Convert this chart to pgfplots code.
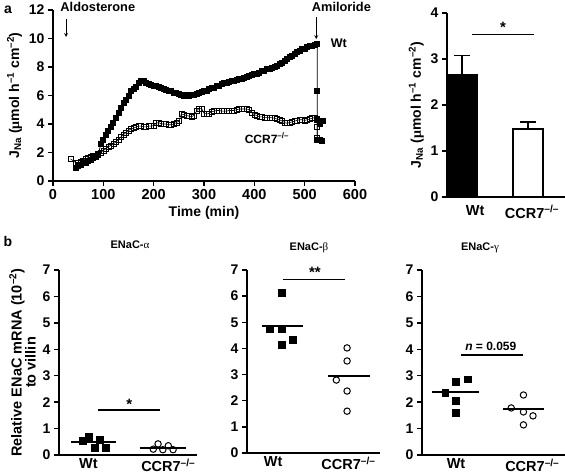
\documentclass[border=0pt]{standalone}
\usepackage{pgfplots}
\pgfplotsset{compat=1.18}
\usepackage{fontspec}
\setmainfont{Liberation Sans}
\newfontfamily\grk{Liberation Serif}
\tikzset{sig/.style={line width=1.2pt}}
\begin{document}
\begin{tikzpicture}
\useasboundingbox (0pt,0pt) rectangle (565pt,476pt);
\pgfplotsset{
 myax/.style={scale only axis, axis lines*=left,
   axis line style={line width=1.6pt,-},
   tick style={line width=1.4pt, black}, tick align=outside, major tick length=5pt,
   clip=false,
   tick label style={font=\fontsize{14}{15}\selectfont\bfseries},
   xticklabel style={font=\fontsize{14.5}{15}\selectfont\bfseries},
   /pgf/number format/assume math mode=true,
   label style={font=\fontsize{14}{15}\selectfont\bfseries},
   xtick pos=left, ytick pos=left},
 botax/.style={myax, xticklabel style={inner sep=1pt, yshift=2.5pt}},
}
% panel letters
\node[font=\fontsize{14}{15}\selectfont\bfseries] at (8pt,466pt) {a};
\node[font=\fontsize{14}{15}\selectfont\bfseries] at (8pt,234pt) {b};

% ---------- time course ----------
\begin{axis}[myax, at={(53pt,295pt)}, anchor=south west, width=302pt, height=171pt,
  xmin=0, xmax=600, ymin=0, ymax=12,
  xtick={0,100,...,600}, ytick={0,2,...,12},
  xlabel={Time (min)},
  ylabel={J\textsubscript{Na} ({\grk μ}mol h\textsuperscript{–1} cm\textsuperscript{–2})}]
\addplot[black, line width=0.8pt, mark=square*, mark size=2.5pt, mark options={solid}] coordinates {
(45,0.95)(50,1.05)(55,1.15)(60,1.25)(65,1.3)(70,1.4)(75,1.5)(80,1.6)(85,1.7)(90,1.85)
(95,2.6)(100,2.9)(105,3.2)(110,3.55)(115,3.8)(120,4.1)(125,4.45)(130,4.8)(135,5.1)(140,5.45)
(145,5.7)(150,6.0)(155,6.35)(160,6.45)(165,6.6)(170,6.85)(175,7.0)(180,7.05)(185,6.85)(190,6.8)
(195,6.75)(200,6.7)(205,6.65)(210,6.6)(215,6.5)(220,6.45)(225,6.4)(230,6.35)(235,6.3)(240,6.2)
(245,6.15)(250,6.1)(255,6.05)(260,6.0)(265,6.05)(270,6.0)(275,6.05)(280,6.05)(285,6.1)(290,6.15)
(295,6.25)(300,6.3)(305,6.35)(310,6.45)(315,6.5)(320,6.55)(325,6.65)(330,6.7)(335,6.8)(340,6.85)
(345,6.9)(350,6.95)(355,7.0)(360,7.05)(365,7.1)(370,7.15)(375,7.15)(380,7.2)(385,7.3)(390,7.35)
(395,7.45)(400,7.5)(405,7.55)(410,7.6)(415,7.7)(420,7.75)(425,7.85)(430,7.9)(435,7.95)(440,8.0)
(445,8.1)(450,8.2)(455,8.3)(460,8.4)(465,8.55)(470,8.7)(475,8.8)(480,8.9)(485,9.05)(490,9.15)
(495,9.25)(500,9.3)(505,9.4)(510,9.45)(515,9.5)(520,9.55)(525,9.6)(525,6.3)(525,4.3)(525,2.9)};
\addplot[only marks, mark=square*, mark size=2.5pt] coordinates {(530,4.1)(535,4.2)(533,2.85)};
\addplot[black, line width=0.6pt, mark=square, mark size=2.5pt, mark options={solid, fill=white}] coordinates {
(35,1.55)(45,1.3)(50,1.3)(55,1.35)(60,1.45)(65,1.55)(70,1.65)(75,1.7)(80,1.75)(85,1.8)
(90,1.9)(95,2.0)(100,2.15)(105,2.25)(110,2.4)(115,2.5)(120,2.6)(125,2.75)(130,2.9)(135,3.1)
(140,3.25)(145,3.4)(150,3.55)(155,3.65)(160,3.7)(165,3.8)(170,3.85)(175,3.85)(180,3.8)(185,3.8)
(190,3.85)(195,3.85)(200,3.9)(205,4.05)(210,4.1)(215,4.0)(220,4.0)(225,4.0)(230,3.95)(235,3.95)
(240,4.0)(245,4.1)(250,4.2)(255,4.7)(260,4.65)(265,4.6)(270,4.55)(275,4.5)(280,4.6)(285,4.9)
(290,5.1)(295,5.1)(300,4.75)(305,4.7)(310,4.75)(315,4.85)(320,4.9)(325,4.95)(330,4.95)(335,4.9)
(340,4.9)(345,4.9)(350,4.95)(355,4.95)(360,4.95)(365,5.0)(370,5.05)(375,5.05)(380,5.05)(385,5.05)
(390,5.0)(395,4.8)(400,4.65)(405,4.6)(410,4.5)(415,4.5)(420,4.45)(425,4.45)(430,4.45)(435,4.45)
(440,4.4)(445,4.35)(450,4.3)(455,4.2)(460,4.1)(465,4.05)(470,4.1)(475,4.15)(480,4.2)(485,4.25)
(490,4.3)(495,4.3)(500,4.25)(505,4.3)(510,4.35)(515,4.4)(520,4.45)(525,4.35)(525,3.8)(525,3.0)};
\addplot[only marks, mark=square, mark size=2.5pt, mark options={fill=white}] coordinates {(530,4.0)(529,2.9)};
\draw[-stealth, line width=0.8pt] (axis cs:26,11.4) -- (axis cs:26,10.1);
\node[font=\fontsize{12.8}{14}\selectfont\bfseries] at (axis cs:89,12.2) {Aldosterone};
\draw[-stealth, line width=0.8pt] (axis cs:523,11.5) -- (axis cs:523,9.95);
\node[font=\fontsize{12.8}{14}\selectfont\bfseries] at (axis cs:573,12.2) {Amiloride};
\node[font=\fontsize{12.5}{14}\selectfont\bfseries] at (axis cs:568,9.7) {Wt};
\node[font=\fontsize{12}{14}\selectfont\bfseries] at (axis cs:425,3.0) {CCR7\textsuperscript{–/–}};
\end{axis}

% ---------- bar chart ----------
\begin{axis}[myax, at={(447pt,279pt)}, anchor=south west, width=118pt, height=184pt,
  xmin=-0.227, xmax=1.56, ymin=0, ymax=4, ytick={0,1,...,4},
  xtick={0.2,1.06}, xticklabels={Wt, CCR7\textsuperscript{–/–}},
  major x tick style={draw=none},
  ylabel={J\textsubscript{Na} ({\grk μ}mol h\textsuperscript{–1} cm\textsuperscript{–2})}]
\addplot[ybar, bar width=30pt, bar shift=0pt, fill=black, draw=black, line width=1.2pt,
  error bars/.cd, y dir=plus, y explicit,
  error bar style={line width=1.5pt, black},
  error mark options={rotate=90, mark size=8pt, line width=1.5pt, black}]
  coordinates {(0,2.67) +- (0,0.41)};
\addplot[ybar, bar width=30pt, bar shift=0pt, fill=white, draw=black, line width=1.2pt,
  error bars/.cd, y dir=plus, y explicit,
  error bar style={line width=1.5pt, black},
  error mark options={rotate=90, mark size=8pt, line width=1.5pt, black}]
  coordinates {(1,1.48) +- (0,0.15)};
\draw[sig] (axis cs:0.15,3.54) -- (axis cs:1.09,3.54);
\node[font=\fontsize{15}{15}\selectfont\bfseries, anchor=base] at (axis cs:0.62,3.58) {*};
\end{axis}

% ---------- ENaC-alpha ----------
\begin{axis}[botax, at={(59pt,21pt)}, anchor=south west, width=138pt, height=185pt,
  xmin=-0.51, xmax=1.51, ymin=0, ymax=7, ytick={0,1,...,7},
  xtick={-0.08,1.09}, xticklabels={Wt, CCR7\textsuperscript{–/–}},
  major x tick style={draw=none},
  ylabel style={align=center, font=\fontsize{14.5}{14}\selectfont\bfseries},
  ylabel={Relative ENaC mRNA (10\textsuperscript{–2})\\to villin}]
\addplot[line width=2pt] coordinates {(-0.33,0.5)(0.33,0.5)};
\addplot[line width=2pt] coordinates {(0.67,0.25)(1.35,0.25)};
\addplot[only marks, mark=square*, mark size=3.4pt] coordinates {(-0.16,0.53)(-0.07,0.68)(0.01,0.27)(0.09,0.57)(0.17,0.27)};
\addplot[only marks, mark=o, mark size=3.2pt, mark options={fill=white, line width=1pt}] coordinates {(0.87,0.22)(0.94,0.42)(1.01,0.2)(1.09,0.35)(1.16,0.2)};
\draw[sig] (axis cs:0.06,1.7) -- (axis cs:0.97,1.7);
\node[font=\fontsize{15}{15}\selectfont\bfseries, anchor=base] at (axis cs:0.52,1.74) {*};
\end{axis}
\node[font=\fontsize{11}{12}\selectfont\bfseries] at (130pt,231pt) {ENaC-{\grk\mdseries α}};

% ---------- ENaC-beta ----------
\begin{axis}[botax, at={(247pt,23pt)}, anchor=south west, width=133pt, height=183pt,
  xmin=-0.52, xmax=1.46, ymin=0, ymax=7, ytick={0,1,...,7},
  xtick={-0.13,0.99}, xticklabels={Wt, CCR7\textsuperscript{–/–}},
  major x tick style={draw=none}]
\addplot[line width=2pt] coordinates {(-0.3,4.85)(0.31,4.85)};
\addplot[line width=2pt] coordinates {(0.69,2.94)(1.31,2.94)};
\addplot[only marks, mark=square*, mark size=3.4pt] coordinates {(0,6.12)(-0.18,4.74)(0,4.74)(0,4.13)(0.16,4.32)};
\addplot[only marks, mark=o, mark size=3.2pt, mark options={fill=white, line width=1pt}] coordinates {(0.97,4.02)(0.97,3.52)(0.81,2.79)(0.97,2.37)(0.97,1.6)};
\draw[sig] (axis cs:0.01,6.65) -- (axis cs:0.94,6.65);
\node[font=\fontsize{15}{15}\selectfont\bfseries, anchor=base] at (axis cs:0.49,6.72) {**};
\end{axis}
\node[font=\fontsize{11}{12}\selectfont\bfseries] at (309pt,228pt) {ENaC-{\grk\mdseries β}};

% ---------- ENaC-gamma ----------
\begin{axis}[botax, at={(422pt,21pt)}, anchor=south west, width=143pt, height=185pt,
  xmin=-0.49, xmax=1.61, ymin=0, ymax=7, ytick={0,1,...,7},
  xtick={0.01,1.13}, xticklabels={Wt, CCR7\textsuperscript{–/–}},
  major x tick style={draw=none}]
\addplot[line width=2pt] coordinates {(-0.34,2.37)(0.34,2.37)};
\addplot[line width=2pt] coordinates {(0.7,1.74)(1.3,1.74)};
\addplot[only marks, mark=square*, mark size=3.4pt] coordinates {(-0.15,2.35)(0.01,2.76)(0.18,2.87)(0.01,2.04)(0.01,1.59)};
\addplot[only marks, mark=o, mark size=3.2pt, mark options={fill=white, line width=1pt}] coordinates {(1.0,2.27)(0.82,1.78)(1.0,1.63)(1.14,1.48)(1.0,1.14)};
\draw[sig] (axis cs:0.09,3.78) -- (axis cs:0.99,3.78);
\node[font=\fontsize{12}{13}\selectfont\bfseries, anchor=base] at (axis cs:0.52,3.95) {\textit{n} = 0.059};
\end{axis}
\node[font=\fontsize{11}{12}\selectfont\bfseries] at (480pt,228pt) {ENaC-{\grk\mdseries γ}};
\end{tikzpicture}
\end{document}
